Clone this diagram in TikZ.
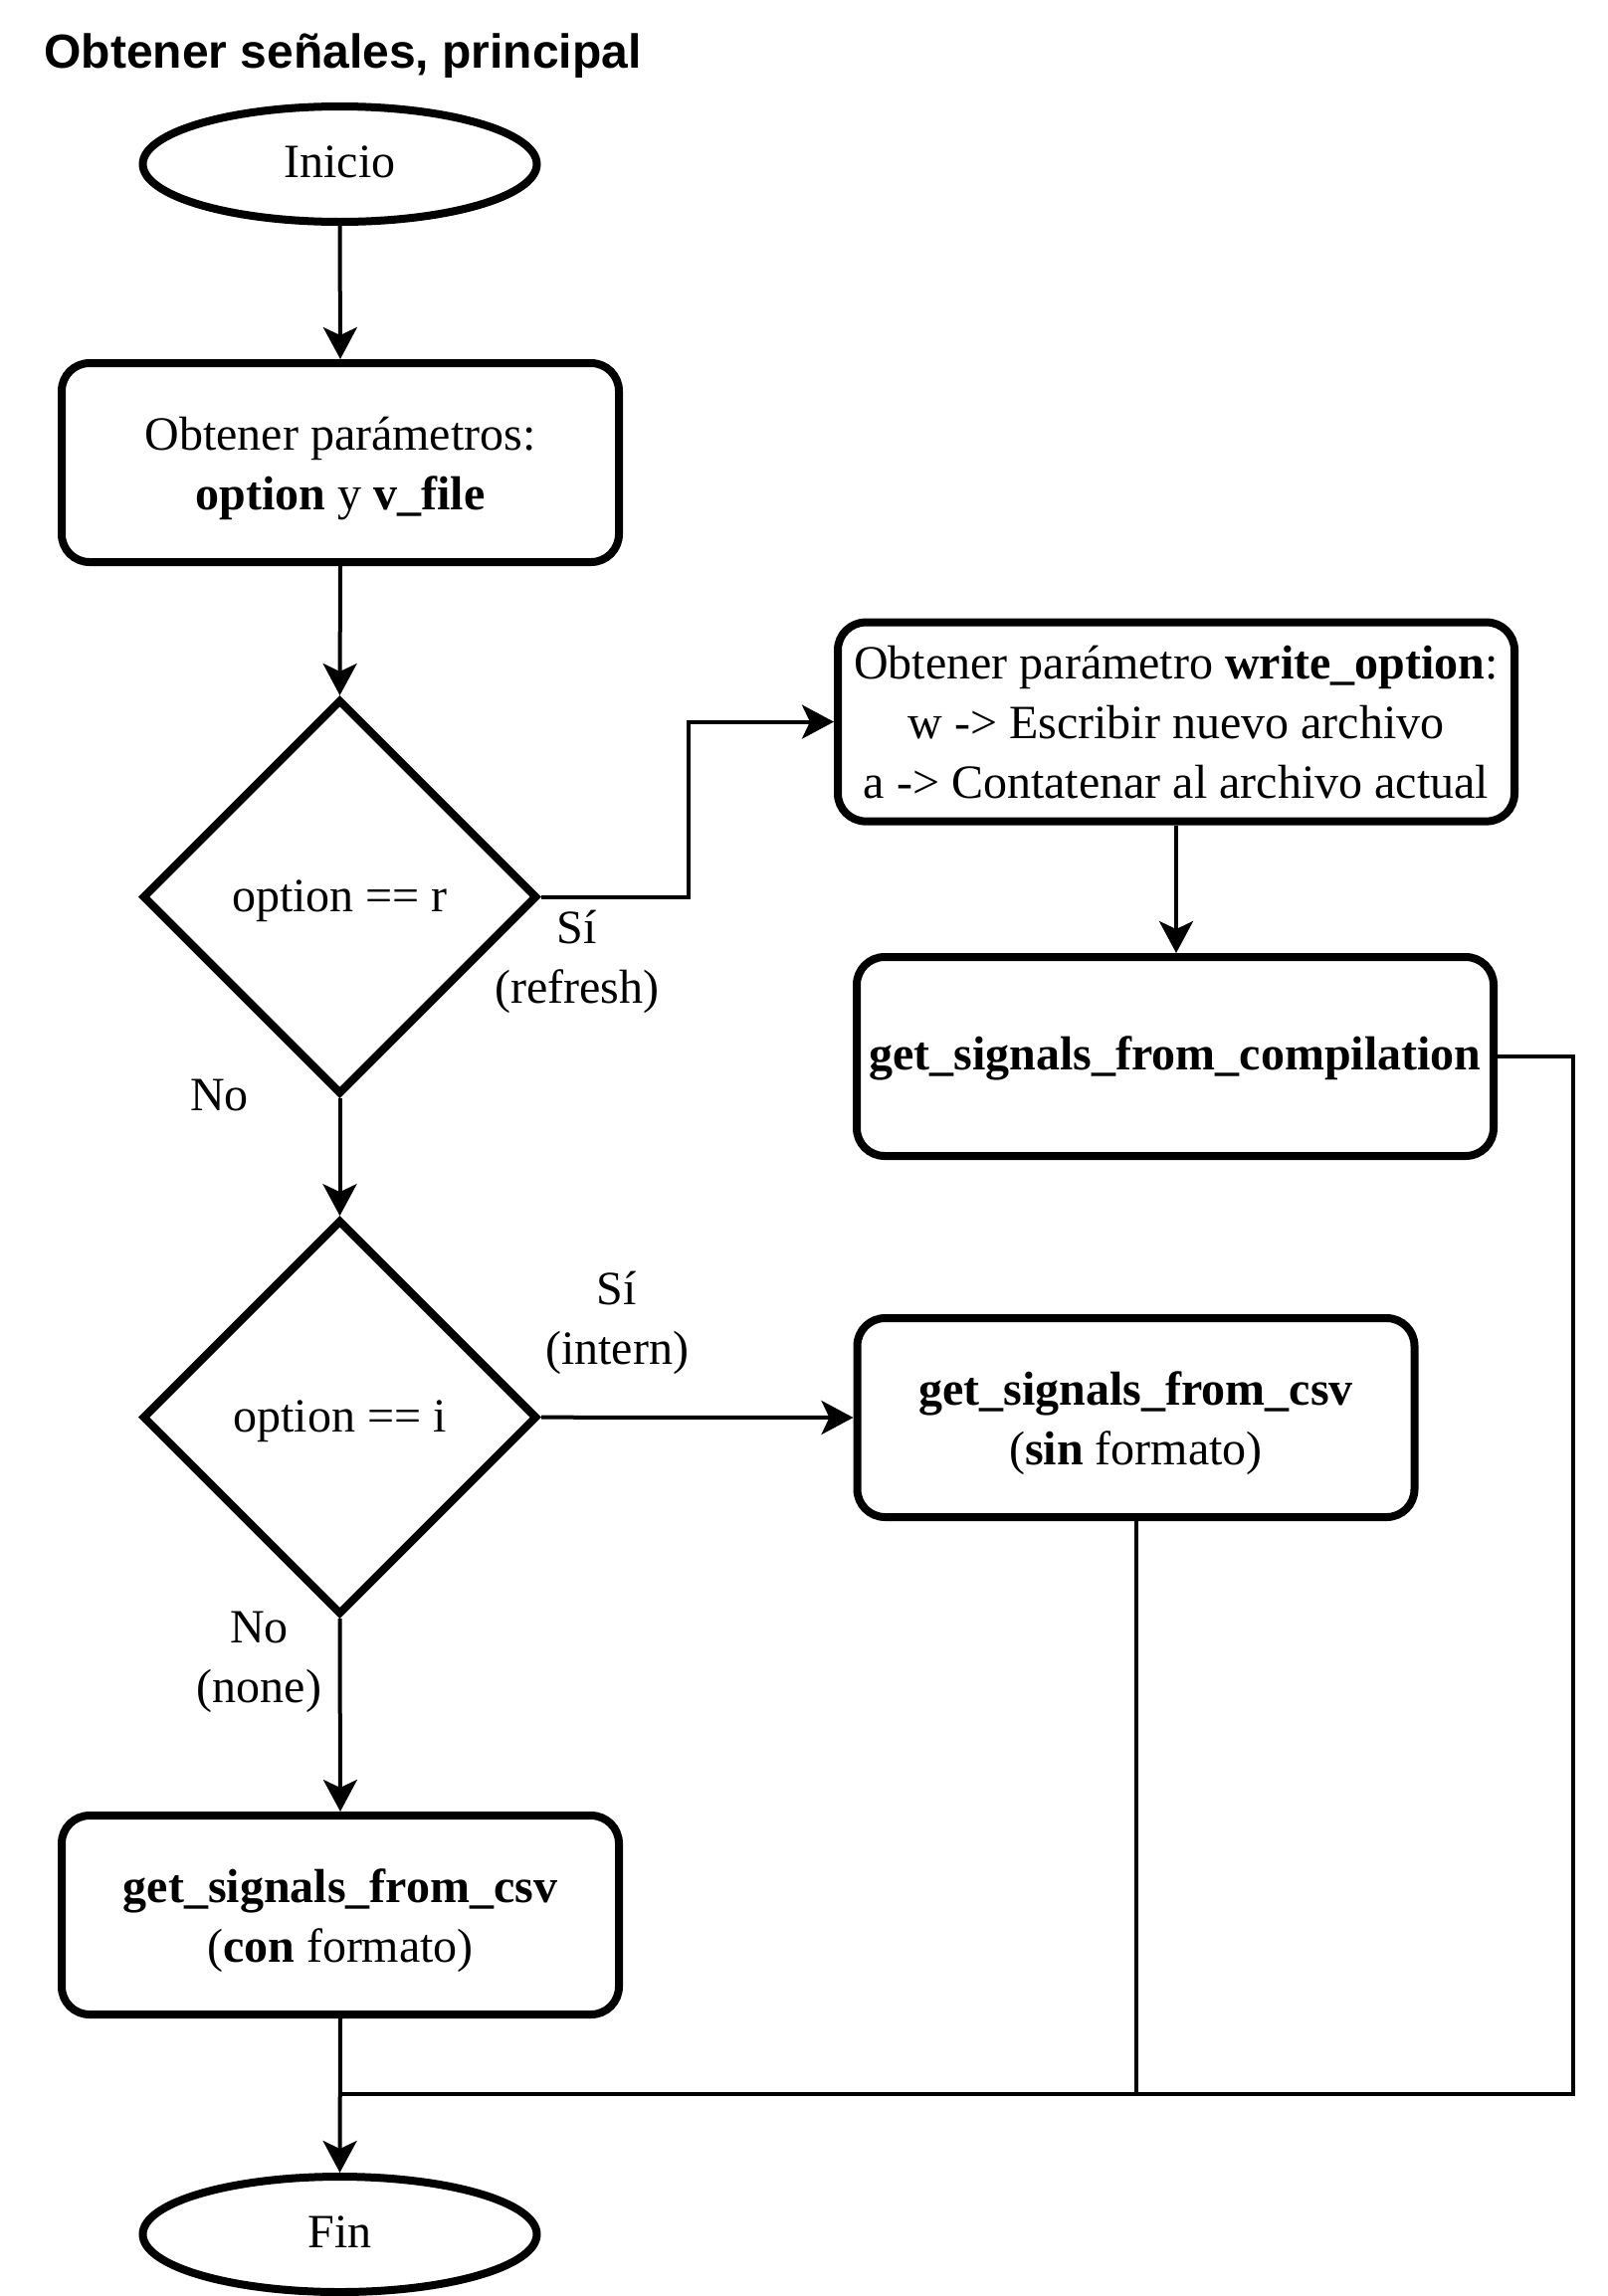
\documentclass[tikz,border=0pt]{standalone}
\usepackage{fontspec}
\setmainfont{Liberation Serif}
\newfontfamily\titlefont{Liberation Sans}
\usetikzlibrary{shapes.geometric,arrows.meta}
\newcommand\mytxt[2][-2.7pt]{\raisebox{#1}[\height][\depth]{\begin{tabular}{@{}c@{}}#2\end{tabular}}}
\begin{document}
\begin{tikzpicture}[x=0.5pt,y=-0.5pt,
  every node/.style={font=\fontsize{24}{30}\selectfont, inner sep=0pt},
  shapeline/.style={draw=black, line width=4pt, fill=white},
  procbox/.style={shapeline, rectangle, rounded corners=14pt, minimum height=100pt},
  terminal/.style={shapeline, ellipse, minimum width=198pt, minimum height=58pt},
  decision/.style={shapeline, diamond, minimum width=198.5pt, minimum height=198.5pt, shape aspect=1},
  conn/.style={line width=2pt, draw=black},
  arr/.style={conn, -{Stealth[length=16pt,width=17pt,inset=4pt]}},
  lbl/.style={}
]
\useasboundingbox (0,0) rectangle (1616,2308);

\node[anchor=base west, font=\titlefont\bfseries\fontsize{24}{30}\selectfont] (title) at (44,68) {Obtener señales, principal};

\node[terminal] (inicio) at (341.5,165) {\mytxt[-0.8pt]{Inicio}};
\node[procbox, minimum width=280pt] (params) at (342,465) {\mytxt{Obtener parámetros:\\\textbf{option} y \textbf{v\_file}}};
\node[decision] (d1) at (341.5,901.5) {\mytxt[-1.5pt]{option == r}};
\node[procbox, minimum width=340pt] (wopt) at (1182,725.6) {\mytxt[-2.5pt]{Obtener parámetro \textbf{write\_option}:\\w -> Escribir nuevo archivo\\a -> Contatenar al archivo actual}};
\node[procbox, minimum width=320pt] (comp) at (1181,1062) {\mytxt[-0.8pt]{\textbf{get\_signals\_from\_compilation}}};
\node[decision] (d2) at (341.5,1424.7) {\mytxt[-1.5pt]{option == i}};
\node[procbox, minimum width=280pt] (sin) at (1141.5,1425) {\mytxt{\textbf{get\_signals\_from\_csv}\\(\textbf{sin} formato)}};
\node[procbox, minimum width=280pt] (con) at (342,1925) {\mytxt{\textbf{get\_signals\_from\_csv}\\(\textbf{con} formato)}};
\node[terminal] (fin) at (341.5,2246) {\mytxt[-0.8pt]{Fin}};

\node[lbl] (l1) at (580,962) {\mytxt[-2pt]{Sí\\(refresh)}};
\node[lbl] (l2) at (220.5,1101) {No};
\node[lbl] (l3) at (620,1325) {\mytxt[-2pt]{Sí\\(intern)}};
\node[lbl] (l4) at (260.5,1665) {\mytxt[-2.3pt]{No\\(none)}};

\coordinate (elb) at (691.7,725.6);
\coordinate (mR) at (1580.7,2104.7);
\coordinate (mL) at (341.5,2104.7);

\draw[arr] (inicio.south) -- (params.north);
\draw[arr] (params.south) -- (d1.north);
\draw[arr] (d1.east) -| (elb) -- (wopt.west);
\draw[arr] (wopt.south) -- (wopt.south |- comp.north);
\draw[arr] (d1.south) -- (d2.north);
\draw[arr] (d2.east) -- (sin.west);
\draw[arr] (d2.south) -- (con.north);
\draw[arr] (con.south) -- (fin.north);
\draw[conn] (comp.east) -| (mR) -- (mL);
\draw[conn] (sin.south) -- (sin.south |- mL);
\end{tikzpicture}
\end{document}
